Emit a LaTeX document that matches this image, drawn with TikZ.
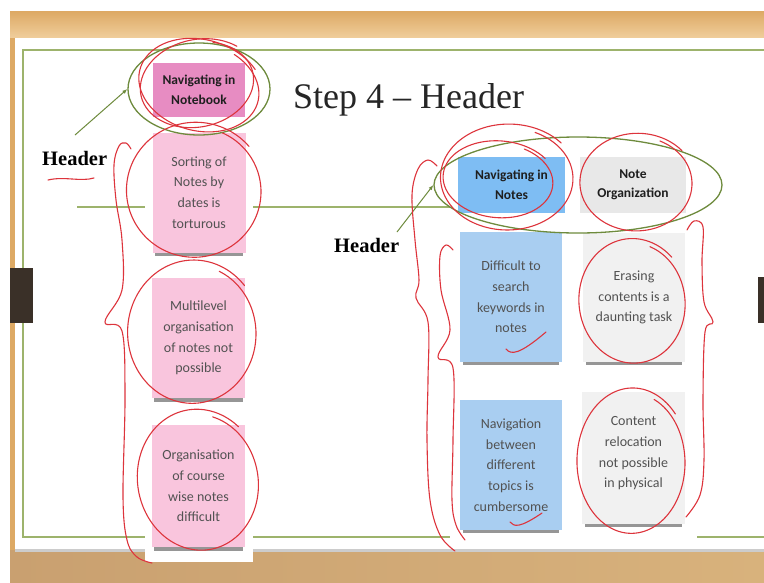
\documentclass[tikz,border=0pt]{standalone}
\usepackage{fontspec}
\newfontfamily\notefont{Carlito}
\newfontfamily\slidefont[Ligatures=TeX]{Liberation Serif}
\usetikzlibrary{arrows.meta,shadows,shapes.geometric}
\definecolor{tantop}{HTML}{DDA964}
\definecolor{tanbot}{HTML}{F0CE9C}
\definecolor{tanlow}{HTML}{C9A070}
\definecolor{tanlowr}{HTML}{D8B27C}
\definecolor{tabdark}{HTML}{3A3028}
\definecolor{framegreen}{HTML}{9DB36C}
\definecolor{pengreen}{HTML}{6E8B3D}
\definecolor{penred}{HTML}{DD343C}
\definecolor{headpink}{HTML}{E78CC2}
\definecolor{notepink}{HTML}{F9C5DD}
\definecolor{headblue}{HTML}{7EBDF3}
\definecolor{noteblue}{HTML}{A9CEF1}
\definecolor{headgray}{HTML}{E8E8E8}
\definecolor{notegray}{HTML}{F1F1F1}

\begin{document}
\begin{tikzpicture}[x=1pt, y=-1pt, >={Latex[length=5pt,width=4pt]},
	frame/.style={draw=framegreen, line width=1.4pt},
	redpen/.style={draw=penred, line width=1.1pt, line cap=round, line join=round},
	ring/.style={ellipse, draw=pengreen, line width=1.3pt, inner sep=0pt},
	stickynote/.style={inner sep=0pt, align=center, text=black!68, font=\notefont\fontsize{14}{20.7}\selectfont},
	shadowed/.style={drop shadow={shadow xshift=0pt, shadow yshift=-7pt, shadow scale=0.95, opacity=.55, fill=black!75}},
	headnote/.style={stickynote, text=black!88, font=\notefont\bfseries\fontsize{13.5}{19.5}\selectfont},
	pinkbox/.style={stickynote, shadowed, fill=notepink, minimum width=93pt, minimum height=120pt},
	bluebox/.style={stickynote, shadowed, fill=noteblue, minimum width=102pt, minimum height=130pt},
	graybox/.style={stickynote, shadowed, fill=notegray, minimum width=102pt, minimum height=130pt},
	headerlabel/.style={font=\slidefont\bfseries\fontsize{20.5}{24}\selectfont, anchor=base west, inner sep=0pt}]
	\useasboundingbox (0,0) rectangle (764,582);
	% photo background and slide
	\fill[top color=tantop, bottom color=tanbot] (10,11) rectangle (764,38);
	\fill[tantop] (10,38) rectangle (15,550);
	\fill[left color=tanlow, right color=tanlowr] (10,550) rectangle (764,582);
	\fill[white] (15,38) rectangle (764,550);
	\fill[black!20] (15,549) rectangle (764,552);
	\draw[frame] (764,50) -- (23,50) -- (23,537) -- (764,537);
	\draw[frame] (77,207) -- (450,207);
	\fill[tabdark] (10,268) rectangle (33,323);
	\fill[tabdark] (758,277) rectangle (764,323);
	\fill[white] (145,57) rectangle (253,562);
	\fill[white] (450,135) rectangle (697,547);
	% notes
	\node[headnote, fill=headpink, minimum width=92pt, minimum height=54pt] (nbHead) at (199,90) {Navigating in\\Notebook};
	\node[pinkbox] (sortNote) at (199,192.5) {Sorting of\\Notes by\\dates is\\torturous};
	\node[pinkbox] (multiNote) at (198.5,338) {Multilevel\\organisation\\of notes not\\possible};
	\node[pinkbox, minimum height=122pt] (courseNote) at (198.5,486) {Organisation\\of course\\wise notes\\difficult};
	\node[headnote, fill=headblue, minimum width=107pt, minimum height=56pt] (navHead) at (511.5,185) {Navigating in\\Notes};
	\node[headnote, fill=headgray, minimum width=106pt, minimum height=56pt] (orgHead) at (633,185) {Note\\Organization};
	\node[bluebox] (searchNote) at (511,297) {Difficult to\\search\\keywords in\\notes};
	\node[graybox, minimum height=129pt] (eraseNote) at (634,297.5) {Erasing\\contents is a\\daunting task};
	\node[bluebox] (topicNote) at (511,465) {Navigation\\between\\different\\topics is\\cumbersome};
	\node[graybox, minimum width=103pt, minimum height=132pt] (relocNote) at (633.5,458) {Content\\relocation\\not possible\\in physical\\[-9pt]};
	% texts
	\node[anchor=base west, inner sep=0pt, text=black!85, font=\slidefont\fontsize{36}{42}\selectfont] (title) at (293,108) {Step 4 – Header};
	\node[headerlabel] (hdrLeft) at (42,165) {Header};
	\node[headerlabel] (hdrRight) at (334,252) {Header};
	% green marks
	\node[ring, minimum width=142pt, minimum height=92pt] (leftRing) at (199,89) {};
	\node[ring, minimum width=288pt, minimum height=96pt] (rightRing) at (578,185) {};
	\coordinate (hdrLeftTip) at (75,135);
	\coordinate (hdrRightTip) at (397,232);
	\draw[->, pengreen, line width=1pt] (hdrLeftTip) -- (leftRing.west);
	\draw[->, pengreen, line width=1pt] (hdrRightTip) -- (rightRing.west);
	% red pen loops
	\foreach \cx/\cy/\rx/\ry/\rot in {200/86/60/44/-15, 198/84/56/42/12, 195/191/66/65/0, 193/333/63/69/0,
		199/481/59/68/10, 499/180/54/37/-5, 508/178/65/51/0, 637/183/55/47/0, 633/302/52/60/5, 632/462/53/70/0}
		\draw[redpen, rotate around={\rot:(\cx,\cy)}] plot[domain=-65:320, samples=80, smooth]
			({\cx+\rx*(1+0.00022*\x)*cos(\x)}, {\cy+\ry*(1+0.00022*\x)*sin(\x)});
	% red pen braces
	\draw[redpen] plot[smooth, tension=.6] coordinates {(131,149) (126,143) (119,146) (114,165) (116,200) (122,240)
		(122,290) (105,322) (122,331) (125,397) (123,497) (127,540) (137,557) (152,563)};
	\draw[redpen] plot[smooth, tension=.6] coordinates {(437,166) (428,160) (418,169) (412,195) (415,240) (419,280)
		(416,298) (428,322) (428,380) (427,440) (430,500) (440,535) (455,551)};
	\draw[redpen] plot[smooth, tension=.6] coordinates {(453,250) (446,245) (440,256) (441,290) (450,330) (438,357)
		(453,368) (453,440) (452,500) (456,525) (465,540)};
	\draw[redpen] plot[smooth, tension=.6] coordinates {(687,230) (694,221) (703,227) (702,262) (704,302) (713,322)
		(705,332) (703,400) (704,460) (700,495) (686,517)};
	% red pen ticks
	\draw[redpen] (48,180) .. controls (65,176) and (80,182) .. (94,178);
	\draw[redpen] (506,349) .. controls (511,355) and (519,355) .. (546,332);
	\draw[redpen] (510,522) .. controls (514,527) and (520,528) .. (542,513);
\end{tikzpicture}
\end{document}
